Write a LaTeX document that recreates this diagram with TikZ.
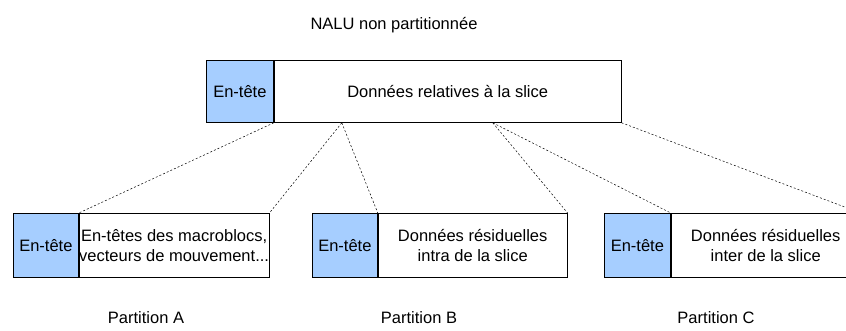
\documentclass[tikz,border=0pt]{standalone}
\usepackage{fontspec}
\setmainfont{Liberation Sans}
\usetikzlibrary{positioning}
\definecolor{bleuentete}{RGB}{166,206,255}
\tikzset{
  entete/.style={draw, fill=bleuentete, minimum width=65pt, minimum height=64pt, inner sep=0pt},
  corps/.style={draw, minimum height=64pt, inner sep=0pt, align=center},
  lien/.style={dash pattern=on 2pt off 2pt, line width=0.5pt},
}
\begin{document}
\begin{tikzpicture}[x=1pt, y=-1pt, line width=0.8pt,
    font=\fontsize{16.5}{20}\selectfont]
    \clip (0,0) rectangle (846,330);

    % 绘制未分割的NALU
    \node (titre) at (394,25) {NALU non partitionnée};
    \node[entete, anchor=north west, minimum width=67pt, minimum height=62pt] (teteN) at (206,60) {En-tête};
    \node[corps, right=0pt of teteN, minimum width=347pt, minimum height=62pt] (corpsN) {Données relatives à la slice};

    % 绘制分割点
    \coordinate (coupe1) at ([xshift=68pt]corpsN.south west);
    \coordinate (coupe2) at ([xshift=219pt]corpsN.south west);

    % 绘制分区A
    \node[entete, anchor=north west] (teteA) at (13,213) {En-tête};
    \node[corps, right=0pt of teteA, minimum width=188pt] (corpsA) {En-têtes des macroblocs,\\vecteurs de mouvement...};
    \node (legA) at (146,318) {Partition A};

    % 绘制分区B
    \node[entete, anchor=north west] (teteB) at (312,213) {En-tête};
    \node[corps, right=0pt of teteB, minimum width=189pt] (corpsB) {Données résiduelles\\intra de la slice};
    \node (legB) at (419,318) {Partition B};

    % 绘制分区C
    \node[entete, anchor=north west, minimum width=66pt] (teteC) at (604,213) {En-tête};
    \node[corps, right=0pt of teteC, minimum width=189pt] (corpsC) {Données résiduelles\\inter de la slice};
    \node (legC) at (716,318) {Partition C};

    % 绘制虚线
    \draw[lien] (teteN.south east) -- (teteA.north east);
    \draw[lien] (coupe1) -- (corpsA.north east);
    \draw[lien] (coupe1) -- (teteB.north east);
    \draw[lien] (coupe2) -- (corpsB.north east);
    \draw[lien] (coupe2) -- (teteC.north east);
    \draw[lien] (corpsN.south east) -- (corpsC.north east);
\end{tikzpicture}
\end{document}
